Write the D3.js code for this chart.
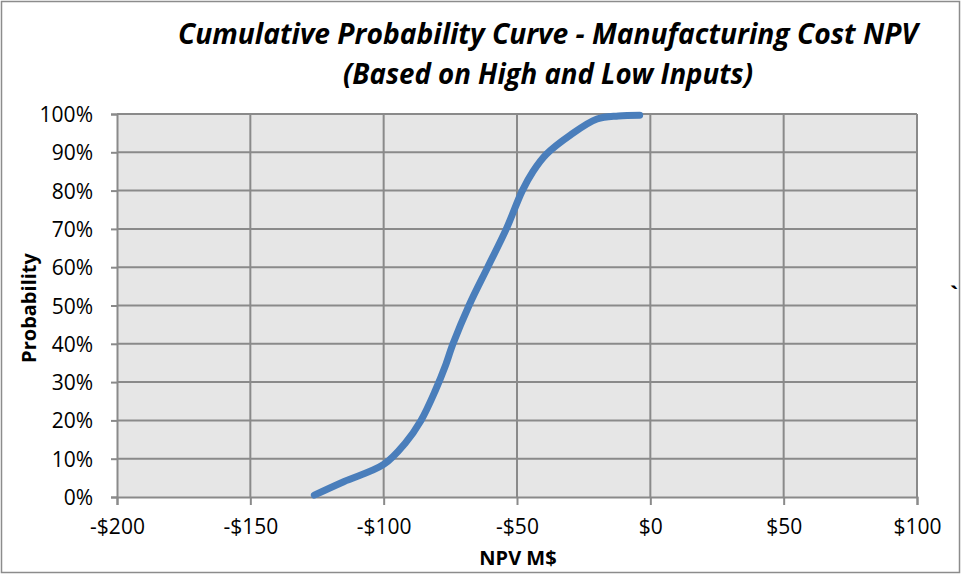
<!DOCTYPE html>
<html>
<head>
<meta charset="utf-8">
<script src="https://cdn.jsdelivr.net/npm/d3@7"></script>
<style>
  body { margin: 0; background: #fff; }
  svg { display: block; }
</style>
</head>
<body>
<svg id="chart"></svg>
<script>
// NPV values (M$) and cumulative probability
var npv  = [-126, -115, -100, -92, -86, -80.5, -77, -74, -68, -61, -54, -48, -44, -39, -30, -20, -12, -4];
var prob = [0.005, 0.04, 0.085, 0.14, 0.20, 0.28, 0.34, 0.40, 0.50, 0.60, 0.70, 0.80, 0.85, 0.895, 0.945, 0.987, 0.995, 0.997];
var xTicks = [-200, -150, -100, -50, 0, 50, 100];
var yTicks = [0, 0.1, 0.2, 0.3, 0.4, 0.5, 0.6, 0.7, 0.8, 0.9, 1.0];

var svg = d3.select("#chart").attr("width", 962).attr("height", 575),
    margin = {top: 114, right: 45, bottom: 78, left: 117},
    width = 962 - margin.left - margin.right,
    height = 575 - margin.top - margin.bottom;

var font = "'Open Sans', sans-serif";

// outer frame
svg.append("rect")
    .attr("x", 1.5).attr("y", 1.5)
    .attr("width", 958).attr("height", 571)
    .attr("fill", "#fff").attr("stroke", "#8c8c8c").attr("stroke-width", 1.5);

var g = svg.append("g").attr("transform", "translate(" + margin.left + "," + margin.top + ")");

var x = d3.scaleLinear().domain([-200, 100]).range([0, width]);
var y = d3.scaleLinear().domain([0, 1]).range([height, 0]);

g.append("rect")
    .attr("width", width).attr("height", height)
    .attr("fill", "#e6e6e6");

// gridlines
g.append("g").selectAll("line")
    .data(yTicks.slice(1))
    .enter().append("line")
    .attr("x1", 0).attr("x2", width)
    .attr("y1", function (d) { return y(d); })
    .attr("y2", function (d) { return y(d); })
    .attr("stroke", "#8a8a8a").attr("stroke-width", 2);

g.append("g").selectAll("line")
    .data(xTicks.slice(1))
    .enter().append("line")
    .attr("y1", 0).attr("y2", height)
    .attr("x1", function (d) { return x(d); })
    .attr("x2", function (d) { return x(d); })
    .attr("stroke", "#8a8a8a").attr("stroke-width", 2);

// axes
var xAxis = g.append("g")
    .attr("transform", "translate(0," + height + ")")
    .call(d3.axisBottom(x).tickValues(xTicks).tickSize(8).tickPadding(14)
        .tickFormat(function (d) { return (d < 0 ? "-$" : "$") + Math.abs(d); }));

var yAxis = g.append("g")
    .call(d3.axisLeft(y).tickValues(yTicks).tickSize(6).tickPadding(18)
        .tickFormat(d3.format(".0%")));

[xAxis, yAxis].forEach(function (a) {
    a.select(".domain").attr("stroke", "#8a8a8a").attr("stroke-width", 2);
    a.selectAll(".tick line").attr("stroke", "#8a8a8a").attr("stroke-width", 2);
    a.selectAll("text").attr("font-family", font).attr("font-size", 21).attr("fill", "#000");
});
yAxis.selectAll("text").attr("dy", "0.36em");

// curve
var pts = npv.map(function (v, i) { return [v, prob[i]]; });
g.append("path")
    .datum(pts)
    .attr("fill", "none")
    .attr("stroke", "#4a7ebb")
    .attr("stroke-width", 7)
    .attr("stroke-linecap", "round")
    .attr("d", d3.line()
        .x(function (d) { return x(d[0]); })
        .y(function (d) { return y(d[1]); })
        .curve(d3.curveCatmullRom.alpha(0.5)));

// titles
svg.append("text")
    .attr("x", 548).attr("y", 44)
    .attr("text-anchor", "middle")
    .attr("font-family", font).attr("font-size", 29)
    .attr("font-weight", "bold").attr("font-style", "italic")
    .attr("textLength", 740).attr("lengthAdjust", "spacingAndGlyphs")
    .text("Cumulative Probability Curve - Manufacturing Cost NPV");

svg.append("text")
    .attr("x", 548).attr("y", 84)
    .attr("text-anchor", "middle")
    .attr("font-family", font).attr("font-size", 29)
    .attr("font-weight", "bold").attr("font-style", "italic")
    .attr("textLength", 410).attr("lengthAdjust", "spacingAndGlyphs")
    .text("(Based on High and Low Inputs)");

svg.append("text")
    .attr("x", 518).attr("y", 565)
    .attr("text-anchor", "middle")
    .attr("font-family", font).attr("font-size", 20).attr("font-weight", "bold")
    .text("NPV M$");

svg.append("text")
    .attr("transform", "translate(36,308) rotate(-90)")
    .attr("text-anchor", "middle")
    .attr("font-family", font).attr("font-size", 20).attr("font-weight", "bold")
    .text("Probability");

svg.append("text")
    .attr("x", 950).attr("y", 302)
    .attr("font-family", font).attr("font-size", 22).attr("font-weight", "bold")
    .text("`");
</script>
</body>
</html>
